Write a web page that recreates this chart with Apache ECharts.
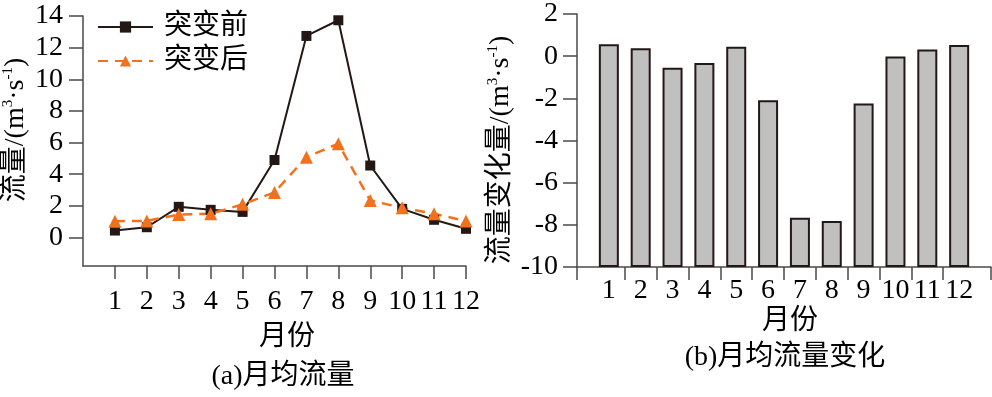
<!DOCTYPE html>
<html>
<head>
<meta charset="utf-8">
<script src="https://cdn.jsdelivr.net/npm/echarts@6/dist/echarts.min.js"></script>
<style>
  html, body { margin: 0; padding: 0; background: #fff; }
  #grafico { width: 992px; height: 397px; }
</style>
</head>
<body>
<div id="grafico"></div>
<script>
// Datos
var meses = [1, 2, 3, 4, 5, 6, 7, 8, 9, 10, 11, 12];
var antes = [0.44, 0.65, 1.94, 1.75, 1.62, 4.9, 12.74, 13.73, 4.55, 1.81, 1.12, 0.55];   // 突变前
var despues = [1.03, 1.05, 1.45, 1.5, 2.1, 2.85, 5.08, 5.93, 2.34, 1.88, 1.5, 1.05];     // 突变后
var cambio = [0.56, 0.38, -0.55, -0.33, 0.45, -2.09, -7.66, -7.82, -2.24, -0.01, 0.32, 0.53];
var ticksIzq = [0, 2, 4, 6, 8, 10, 12, 14];

var negro = '#231815';
var naranja = '#f2711c';
var gris = '#4a4a4a';
var fuente = "'Liberation Serif', 'Noto Sans CJK SC', serif";

function pares(xs, ys) {
    return xs.map(function (x, i) { return [x, ys[i]]; });
}

// límites entre barras para las marcas del eje x derecho
var limites = [0].concat(meses.slice(0, -1).map(function (m) { return m + 0.5; }), [13]);

var etiqueta = { show: true, color: '#000', fontSize: 28, fontFamily: fuente };
var marca = function (extra) {
    return Object.assign({ show: true, inside: false, length: 14, lineStyle: { color: gris, width: 1.5 } }, extra || {});
};
var linea = { show: true, onZero: false, lineStyle: { color: gris, width: 1.5 } };

var grafico = echarts.init(document.getElementById('grafico'));

var rotulo = function (txt, x, y, rot) {
    return {
        type: 'text', x: x, y: y, rotation: rot || 0,
        style: {
            text: txt, align: 'center', verticalAlign: 'middle',
            fill: '#000',
            rich: {
                n: { fontSize: 28, fontFamily: fuente, lineHeight: 30 },
                sup: { fontSize: 15, fontFamily: fuente, verticalAlign: 'top', lineHeight: 30 }
            }
        }
    };
};

var opciones = {
    animation: false,
    grid: [
        { left: 83, right: 526, top: 16, bottom: 131 },
        { left: 577, right: 1, top: 14, bottom: 130 }
    ],
    legend: {
        orient: 'vertical', left: 97, top: 13, padding: 0,
        itemWidth: 55, itemHeight: 14, itemGap: 6,
        textStyle: { fontSize: 28, fontFamily: fuente, color: '#000', padding: [0, 0, 0, 6] },
        data: ['突变前', '突变后']
    },
    xAxis: [
        {
            gridIndex: 0, type: 'value', min: 0, max: 12,
            axisLine: linea, splitLine: { show: false },
            axisTick: marca({ length: 13, customValues: meses }),
            axisLabel: Object.assign({}, etiqueta, { margin: 22, customValues: meses })
        },
        {
            gridIndex: 1, type: 'value', min: 0, max: 13,
            axisLine: linea, splitLine: { show: false },
            axisTick: marca({ length: 13, customValues: limites }),
            axisLabel: Object.assign({}, etiqueta, { margin: 10, customValues: meses })
        }
    ],
    yAxis: [
        {
            gridIndex: 0, type: 'value', min: -1.8, max: 14,
            axisLine: linea, splitLine: { show: false },
            axisTick: marca({ customValues: ticksIzq }),
            axisLabel: Object.assign({}, etiqueta, { margin: 20, customValues: ticksIzq })
        },
        {
            gridIndex: 1, type: 'value', min: -10, max: 2, interval: 2, startValue: -10,
            axisLine: linea, splitLine: { show: false },
            axisTick: marca(),
            axisLabel: Object.assign({}, etiqueta, { margin: 19 })
        }
    ],
    series: [
        {
            name: '突变前', type: 'line', xAxisIndex: 0, yAxisIndex: 0,
            data: pares(meses, antes),
            symbol: 'rect', symbolSize: 10,
            lineStyle: { color: negro, width: 2 },
            itemStyle: { color: negro }
        },
        {
            name: '突变后', type: 'line', xAxisIndex: 0, yAxisIndex: 0,
            data: pares(meses, despues),
            symbol: 'triangle', symbolSize: 13,
            lineStyle: { color: naranja, width: 2.5, type: [10, 7] },
            itemStyle: { color: naranja }
        },
        {
            name: '变化', type: 'bar', xAxisIndex: 1, yAxisIndex: 1,
            data: pares(meses, cambio),
            barWidth: 20,
            itemStyle: { color: '#c0c0c0', borderColor: negro, borderWidth: 2 }
        }
    ],
    graphic: [
        rotulo('{n|流量/(m}{sup|3}{n|·s}{sup|-1}{n|)}', 16, 130, Math.PI / 2),
        rotulo('{n|流量变化量/(m}{sup|3}{n|·s}{sup|-1}{n|)}', 501, 150, Math.PI / 2),
        rotulo('{n|月份}', 287, 338),
        rotulo('{n|(a)月均流量}', 283, 377),
        rotulo('{n|月份}', 790, 322),
        rotulo('{n|(b)月均流量变化}', 785, 358)
    ]
};

grafico.setOption(opciones);
</script>
</body>
</html>
